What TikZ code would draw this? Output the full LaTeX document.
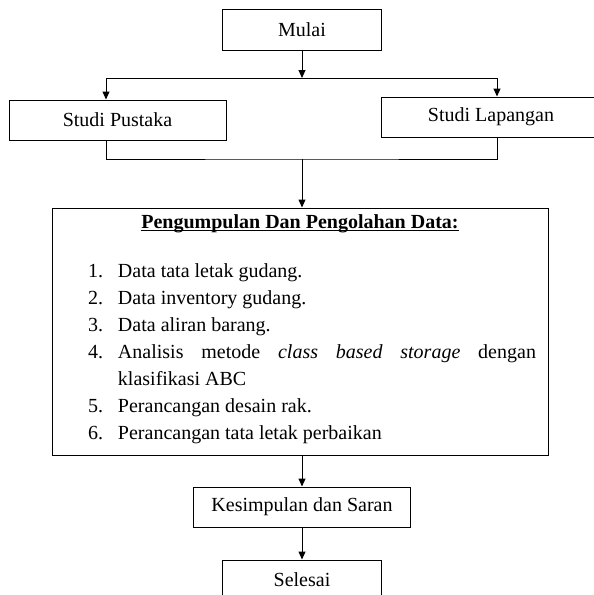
\documentclass[tikz,border=0pt]{standalone}
\usepackage{fontspec}
\setmainfont{Liberation Serif}
\usepackage{tikz}
\usetikzlibrary{arrows.meta,positioning}

\newsavebox{\titlebox}
\newcommand{\titleul}[1]{\sbox{\titlebox}{#1}\rlap{\rule[-3pt]{\wd\titlebox}{1.2pt}}\usebox{\titlebox}}
\newenvironment{datalist}{\begin{list}{\arabic{enumi}.}{\usecounter{enumi}%
  \setlength{\leftmargin}{66pt}\setlength{\rightmargin}{12pt}%
  \setlength{\labelsep}{15pt}\setlength{\labelwidth}{20pt}%
  \setlength{\itemsep}{0pt}\setlength{\parsep}{0pt}%
  \setlength{\topsep}{0pt}\setlength{\partopsep}{0pt}}}{\end{list}}

\begin{document}
\begin{tikzpicture}[line width=1pt,>={Triangle[width=7pt,length=8pt]},on grid,
  flowbox/.style={draw,minimum height=40pt,inner sep=0pt,font=\fontsize{20pt}{27pt}\selectfont}]
\useasboundingbox (0,0) rectangle (594pt,-595pt);
\clip (0,0) rectangle (594pt,-595pt);
\node[flowbox, minimum width=159pt, minimum height=41pt] (mulai) at (302pt,-29.5pt) {Mulai};
\node[flowbox, minimum width=217pt] (pustaka) [below left=90.5pt and 184.5pt of mulai] {Studi Pustaka};
\node[flowbox, minimum width=220pt] (lapangan) [below right=87.5pt and 189pt of mulai] {Studi Lapangan};
\node[flowbox, text width=496pt, align=justify] (data) [below=302pt of mulai, xshift=-2pt] {%
  {\centering\rule{0pt}{20pt}\titleul{\textbf{Pengumpulan Dan Pengolahan Data:}}\par}
  \vspace{22pt}
  \begin{datalist}
  \item Data tata letak gudang.
  \item Data inventory gudang.
  \item Data aliran barang.
  \item Analisis metode \textit{class based storage} dengan\linebreak klasifikasi ABC
  \item Perancangan desain rak.
  \item Perancangan tata letak perbaikan\rule[-16pt]{0pt}{16pt}
  \end{datalist}};
\node[flowbox, minimum width=217pt] (saran) [below=477.5pt of mulai] {Kesimpulan dan Saran};
\node[flowbox, minimum width=159pt] (selesai) [below=73pt of saran] {Selesai};
\coordinate[below=48.5pt of mulai] (split);
\coordinate[below=129.5pt of mulai] (merge);
\draw[->] (mulai) -- (split);
\draw[->] (split) -| ([xshift=-11.5pt]pustaka.north);
\draw[->] (split) -| ([xshift=6pt]lapangan.north);
\draw ([xshift=-11.5pt]pustaka.south) |- (merge) -| ([xshift=6pt]lapangan.south);
\draw[->] (merge) -- (merge |- data.north);
\draw[->] (data.south -| saran) -- (saran);
\draw[->] (saran) -- (selesai);
\end{tikzpicture}
\end{document}
